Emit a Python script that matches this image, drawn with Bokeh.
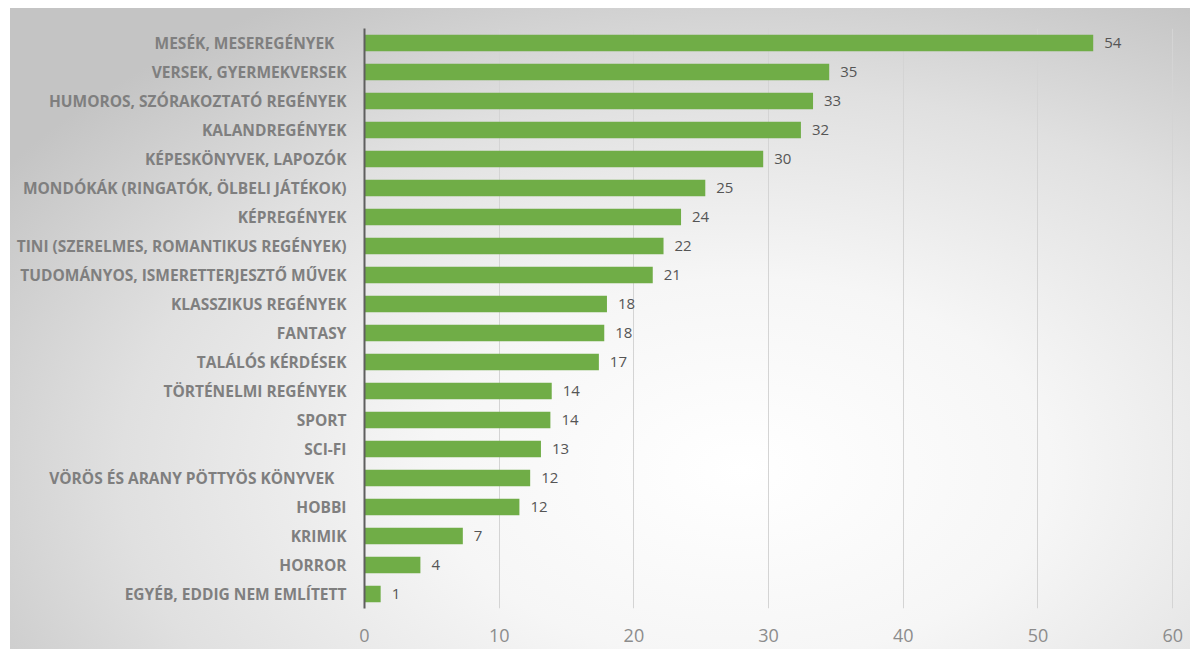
from bokeh.plotting import figure
from bokeh.models import ColumnDataSource, FactorRange, Range1d, FixedTicker
from bokeh.embed import file_html
from bokeh.resources import INLINE
from bokeh.core.properties import value

categories = [
    "MESÉK, MESEREGÉNYEK   ",
    "VERSEK, GYERMEKVERSEK",
    "HUMOROS, SZÓRAKOZTATÓ REGÉNYEK",
    "KALANDREGÉNYEK",
    "KÉPESKÖNYVEK, LAPOZÓK",
    "MONDÓKÁK (RINGATÓK, ÖLBELI JÁTÉKOK)",
    "KÉPREGÉNYEK",
    "TINI (SZERELMES, ROMANTIKUS REGÉNYEK)",
    "TUDOMÁNYOS, ISMERETTERJESZTŐ MŰVEK",
    "KLASSZIKUS REGÉNYEK",
    "FANTASY",
    "TALÁLÓS KÉRDÉSEK",
    "TÖRTÉNELMI REGÉNYEK",
    "SPORT",
    "SCI-FI",
    "VÖRÖS ÉS ARANY PÖTTYÖS KÖNYVEK   ",
    "HOBBI",
    "KRIMIK",
    "HORROR",
    "EGYÉB, EDDIG NEM EMLÍTETT",
]
values = [54.1, 34.5, 33.3, 32.4, 29.6, 25.3, 23.5, 22.2, 21.4, 18.0,
          17.8, 17.4, 13.9, 13.8, 13.1, 12.3, 11.5, 7.3, 4.15, 1.2]
value_labels = ["54", "35", "33", "32", "30", "25", "24", "22", "21", "18",
                "18", "17", "14", "14", "13", "12", "12", "7", "4", "1"]
x_ticks = [0, 10, 20, 30, 40, 50, 60]

src = ColumnDataSource(dict(cat=categories, val=values, lab=value_labels))

p = figure(
    width=1190, height=649,
    y_range=FactorRange(factors=categories[::-1], range_padding=0),
    x_range=Range1d(0, 60.58),
    output_backend="svg", toolbar_location=None,
    min_border_left=364, min_border_right=10, min_border_top=28, min_border_bottom=41,
)
p.styles = {
    "background-image": "radial-gradient(ellipse 75% 85% at 62% 72%, #ffffff 0%, #f6f6f6 35%, #e0e0e0 70%, #c4c4c4 100%)",
    "background-size": "1180px 641px",
    "background-position": "10px 8px",
    "background-repeat": "no-repeat",
}
p.background_fill_color = None
p.border_fill_color = None
p.outline_line_color = None

p.hbar(y="cat", right="val", left=0, height=0.57, source=src,
       fill_color="#70AD47", line_color=None)
p.text(x="val", y="cat", text="lab", source=src, x_offset=11,
       text_baseline="middle", text_align="left",
       text_font=value("Open Sans"), text_font_size="15px", text_color="#555555")

# axes
p.xaxis.ticker = FixedTicker(ticks=x_ticks)
p.xaxis.axis_line_color = None
p.xaxis.major_tick_line_color = None
p.xaxis.minor_tick_line_color = None
p.xaxis.major_label_standoff = 14
p.xaxis.major_label_text_font = "Open Sans"
p.xaxis.major_label_text_font_size = "18px"
p.xaxis.major_label_text_color = "#8c8c8c"

p.yaxis.axis_line_color = "#5f5f5f"
p.yaxis.axis_line_width = 2
p.yaxis.major_tick_line_color = None
p.yaxis.minor_tick_line_color = None
p.yaxis.major_label_standoff = 12
p.yaxis.major_label_text_font = "Open Sans"
p.yaxis.major_label_text_font_style = "bold"
p.yaxis.major_label_text_font_size = "15.5px"
p.yaxis.major_label_text_color = "#7f7f7f"

p.xgrid.ticker = FixedTicker(ticks=x_ticks[1:])
p.xgrid.grid_line_color = "#d4d4d4"
p.xgrid.grid_line_width = 1
p.ygrid.grid_line_color = None

open("out.html", "w").write(file_html(p, INLINE))
